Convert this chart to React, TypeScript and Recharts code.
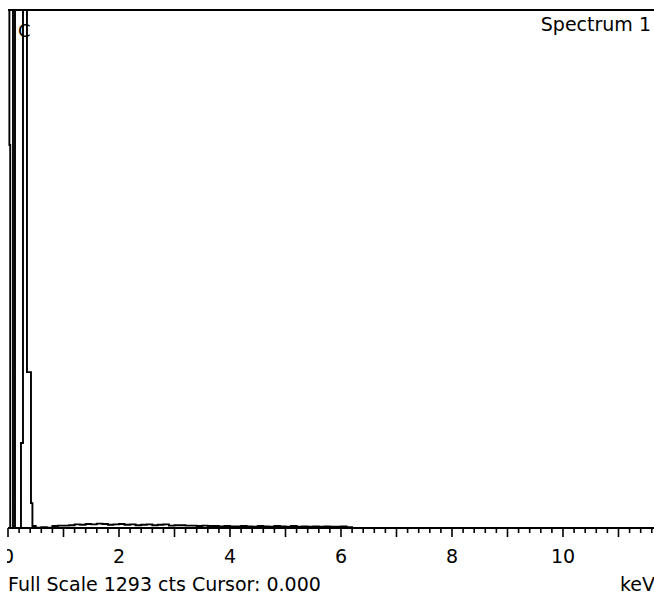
import { LineChart, Line, XAxis, YAxis, ReferenceLine } from "recharts";

// energy (keV) of each channel edge and the counts in it
// peak region: noise peak at 0 keV and the C K-alpha line, both above full scale
const PEAK_KEV = [0, 0.025, 0.04, 0.09, 0.126, 0.234, 0.27, 0.342, 0.414, 0.44];
const PEAK_CTS = [2600, 956, 0, 2600, 0, 212, 2600, 389, 62, 5];

// background (bremsstrahlung), 0.1 keV steps
const BG_KEV = [
  0.5, 0.6, 0.7, 0.8, 0.9, 1.0, 1.1, 1.2, 1.3, 1.4, 1.5, 1.6, 1.7, 1.8, 1.9,
  2.0, 2.1, 2.2, 2.3, 2.4, 2.5, 2.6, 2.7, 2.8, 2.9, 3.0, 3.1, 3.2, 3.3, 3.4,
  3.5, 3.6, 3.7, 3.8, 3.9, 4.0, 4.1, 4.2, 4.3, 4.4, 4.5, 4.6, 4.7, 4.8, 4.9,
  5.0, 5.1, 5.2, 5.3, 5.4, 5.5, 5.6, 5.7, 5.8, 5.9, 6.0, 6.1, 6.2, 11.64,
];
const BG_CTS = [
  1, 2, 1, 5, 6, 6, 7, 9, 8, 10, 9, 11, 10, 8, 9,
  10, 8, 9, 7, 8, 9, 7, 8, 9, 6, 7, 7, 6, 6, 5,
  6, 5, 5, 4, 5, 4, 4, 5, 4, 3, 5, 4, 3, 5, 4,
  3, 5, 3, 4, 3, 4, 3, 4, 3, 3, 4, 2, 0, 0,
];

const FULL_SCALE = 1293;
const KEV_MAX = 11.64;
const KEV_LABELS = [0, 2, 4, 6, 8, 10];

const FONT = "'DejaVu Sans', Arial, sans-serif";

const data = [
  ...PEAK_KEV.map((kev, i) => ({ kev, cts: PEAK_CTS[i] })),
  ...BG_KEV.map((kev, i) => ({ kev, cts: BG_CTS[i] })),
];

// one tick every 0.2 keV, long ones on whole keV
const tickValues: number[] = [];
for (let i = 0; i <= 58; i++) tickValues.push(Math.round(i * 2) / 10);

function KevTick(props: any) {
  const { x, y, payload } = props;
  const v = payload.value as number;
  const whole = Math.abs(v - Math.round(v)) < 1e-6;
  const label = whole && KEV_LABELS.includes(Math.round(v));
  return (
    <g>
      <line x1={x} x2={x} y1={y} y2={y + (whole ? 9 : 5)} stroke="#000" strokeWidth={1.6} />
      {label && (
        <text x={x} y={y + 35} textAnchor="middle" fontFamily={FONT} fontSize={19} fill="#000">
          {Math.round(v)}
        </text>
      )}
    </g>
  );
}

export default function App() {
  return (
    <div style={{ position: "absolute", left: 0, top: 0, width: 654, height: 597, background: "#fff", overflow: "hidden" }}>
      <LineChart width={654} height={597} data={data} margin={{ top: 10, right: 0, bottom: 0, left: 8 }}>
        <XAxis
          dataKey="kev"
          type="number"
          domain={[0, KEV_MAX]}
          ticks={tickValues}
          interval={0}
          height={69}
          tickSize={0}
          tickMargin={0}
          tickLine={false}
          axisLine={{ stroke: "#000", strokeWidth: 2 }}
          tick={<KevTick />}
          allowDataOverflow
        />
        <YAxis hide domain={[0, FULL_SCALE]} allowDataOverflow />
        <ReferenceLine y={FULL_SCALE} stroke="#000" strokeWidth={2} />
        <Line
          type="stepAfter"
          dataKey="cts"
          stroke="#000"
          strokeWidth={1.9}
          dot={false}
          isAnimationActive={false}
        />
      </LineChart>
      <svg
        width={654}
        height={597}
        style={{ position: "absolute", left: 0, top: 0, pointerEvents: "none" }}
      >
        <rect x={0} y={0} width={7} height={597} fill="#fff" />
        <text x={651} y={31} textAnchor="end" fontFamily={FONT} fontSize={19} fill="#000">
          Spectrum 1
        </text>
        <text x={18} y={37} fontFamily={FONT} fontSize={18} fill="#000">
          C
        </text>
        <text x={8} y={591} fontFamily={FONT} fontSize={19} fill="#000">
          Full Scale 1293 cts Cursor: 0.000
        </text>
        <text x={620} y={591} fontFamily={FONT} fontSize={19} fill="#000">
          keV
        </text>
      </svg>
    </div>
  );
}
